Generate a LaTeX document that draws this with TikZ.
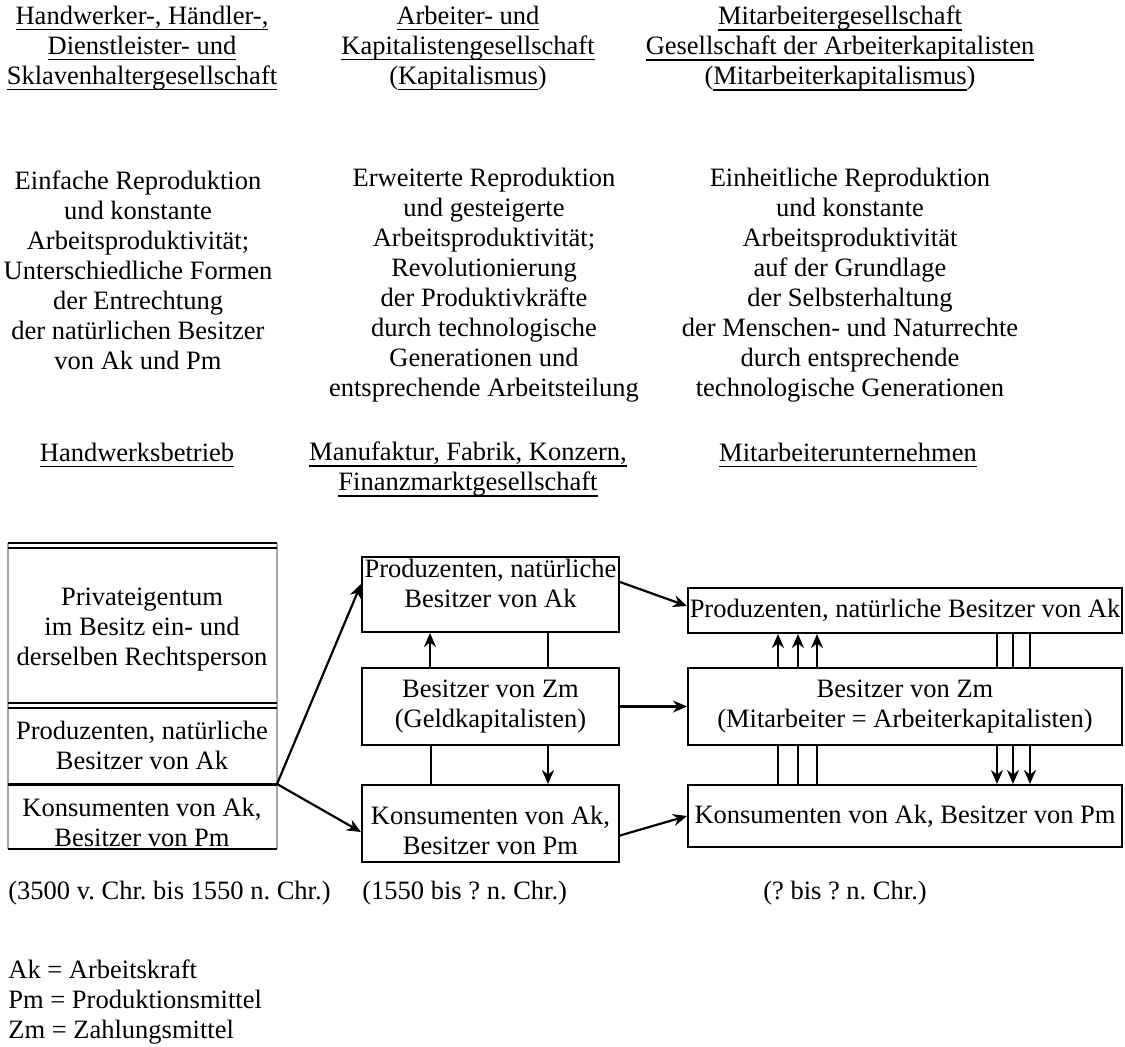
\documentclass[tikz,border=0pt]{standalone}
\usepackage{fontspec}
\setmainfont{Liberation Serif}
\usetikzlibrary{arrows.meta,calc}
\newcommand\ulx[1]{\setbox0\hbox{#1}\leavevmode\rlap{\rule[-3.2pt]{\wd0}{0.75pt}}\box0}
\begin{document}
\frenchspacing
\begin{tikzpicture}[x=0.5pt,y=-0.5pt,
  txt/.style={font=\fontsize{13.25}{15}\selectfont, align=center, inner sep=0pt},
  boxm/.style={draw, line width=1pt, inner sep=0pt, font=\fontsize{13.25}{15}\selectfont, align=center},
  arr/.style={line width=1.1pt, -{Stealth[length=7pt,width=6pt]}},
  ln/.style={line width=0.6pt},
  dbl/.style={line width=0.9pt},
  side/.style={draw=gray!70, line width=1pt}]
\useasboundingbox (0,0) rectangle (1125,1046);

% titles
\node[txt] (t1) at (142,48) {\ulx{Handwerker-, Händler-,}\\\ulx{Dienstleister- und}\\\ulx{Sklavenhaltergesellschaft}};
\node[txt] (t2) at (468,48) {\ulx{Arbeiter- und}\\\ulx{Kapitalistengesellschaft}\\(\ulx{Kapitalismus})};
\node[txt] (t3) at (840,48) {\ulx{Mitarbeitergesellschaft}\\\ulx{Gesellschaft der Arbeiterkapitalisten}\\(\ulx{Mitarbeiterkapitalismus})};

% descriptions
\node[txt] (d1) at (138,270) {Einfache Reproduktion\\und konstante\\Arbeitsproduktivität;\\Unterschiedliche Formen\\der Entrechtung\\der natürlichen Besitzer\\von Ak und Pm};
\node[txt] (d2) at (484,285) {Erweiterte Reproduktion\\und gesteigerte\\Arbeitsproduktivität;\\Revolutionierung\\der Produktivkräfte\\durch technologische\\Generationen und\\entsprechende Arbeitsteilung};
\node[txt] (d3) at (850,285) {Einheitliche Reproduktion\\und konstante\\Arbeitsproduktivität\\auf der Grundlage\\der Selbsterhaltung\\der Menschen- und Naturrechte\\durch entsprechende\\technologische Generationen};

% enterprise types
\node[txt] (e1) at (137,455) {\ulx{Handwerksbetrieb}};
\node[txt] (e2) at (468,469) {\ulx{Manufaktur, Fabrik, Konzern,}\\\ulx{Finanzmarktgesellschaft}};
\node[txt] (e3) at (848,455) {\ulx{Mitarbeiterunternehmen}};

% left box
\draw[side] (8,543) -- (8,849);
\draw[side] (277,543) -- (277,849);
\draw[dbl] (8,543) -- (277,543);
\draw[dbl] (8,548) -- (277,548);
\draw[dbl] (8,703) -- (277,703);
\draw[dbl] (8,708) -- (277,708);
\draw[line width=1.5pt] (8,784) -- (277,784);
\draw[line width=1.2pt] (8,849) -- (277,849);
\coordinate (split) at (277,784);
\node[txt] (lpriv) at (142,630) {Privateigentum\\im Besitz ein- und\\derselben Rechtsperson};
\node[txt] (lprod) at (142,745) {Produzenten, natürliche\\Besitzer von Ak};
\node[txt] (lkons) at (142,822) {Konsumenten von Ak,\\Besitzer von Pm};

% middle boxes
\node[boxm, minimum width=128.5pt, minimum height=37.5pt] (mtop) at (490.5,594.5) {Produzenten, natürliche\\Besitzer von Ak\rule[-11pt]{0pt}{0pt}};
\node[boxm, minimum width=128.5pt, minimum height=38.5pt] (mmid) at (490.5,706.5) {Besitzer von Zm\\(Geldkapitalisten)};
\node[boxm, minimum width=128.5pt, minimum height=38.5pt] (mbot) at (490.5,823.5) {\rule{0pt}{16pt}Konsumenten von Ak,\\Besitzer von Pm};

% right boxes
\node[boxm, minimum width=217pt, minimum height=22.5pt] (rtop) at (905,610.5) {Produzenten, natürliche Besitzer von Ak};
\node[boxm, minimum width=217pt, minimum height=38.5pt] (rmid) at (905,706.5) {Besitzer von Zm\\(Mitarbeiter = Arbeiterkapitalisten)};
\node[boxm, minimum width=217pt, minimum height=31pt] (rbot) at (905,816) {Konsumenten von Ak, Besitzer von Pm};

% arrows from left box
\draw[arr] (split) -- ($(mtop.north west)+(0,28)$);
\draw[arr] (split) -- ($(mbot.north west)+(0,48)$);

% middle to right
\draw[arr] ($(mtop.north east)+(0,26)$) -- ($(rtop.north west)+(0,19)$);
\draw[arr] (mmid.east) -- (rmid.west);
\draw[arr] ($(mbot.east)+(0,12)$) -- (rbot.west);

% middle verticals
\draw[arr] (430,0 |- mmid.north) -- (430,0 |- mtop.south);
\draw[ln] (548,0 |- mtop.south) -- (548,0 |- mmid.north);
\draw[ln] (431,0 |- mmid.south) -- (431,0 |- mbot.north);
\draw[arr] (548,0 |- mmid.south) -- (548,0 |- mbot.north);

% right verticals
\foreach \xx in {778,798,817} {
  \draw[arr] (\xx,0 |- rmid.north) -- (\xx,0 |- rtop.south);
  \draw[ln] (\xx,0 |- rmid.south) -- (\xx,0 |- rbot.north);
}
\foreach \xx in {997,1013,1030} {
  \draw[ln] (\xx,0 |- rtop.south) -- (\xx,0 |- rmid.north);
  \draw[arr] (\xx,0 |- rmid.south) -- (\xx,0 |- rbot.north);
}

% periods
\node[txt, anchor=west] (p1) at (8,893) {(3500 v. Chr. bis 1550 n. Chr.)};
\node[txt, anchor=west] (p2) at (362,893) {(1550 bis ? n. Chr.)};
\node[txt] (p3) at (845,893) {(? bis ? n. Chr.)};

% legend
\node[txt, align=left, anchor=west] (leg) at (8,1002) {Ak = Arbeitskraft\\Pm = Produktionsmittel\\Zm = Zahlungsmittel};
\end{tikzpicture}
\end{document}
